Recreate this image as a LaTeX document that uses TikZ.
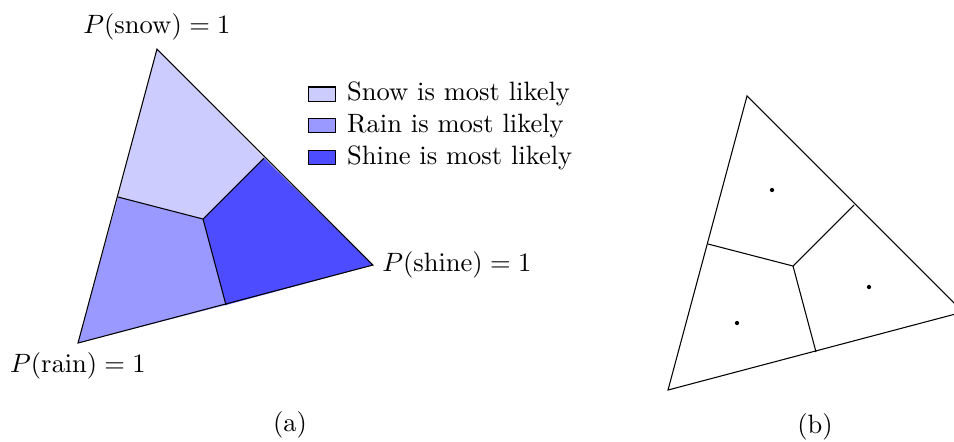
\documentclass[tikz,border=0pt]{standalone}
\usepackage{xcolor}
\usepackage{tikz}
\usetikzlibrary{positioning}
\definecolor{snowcol}{RGB}{204,204,255}
\definecolor{raincol}{RGB}{153,153,255}
\definecolor{shinecol}{RGB}{77,77,255}

\begin{document}
\begin{tikzpicture}[x=0.377pt, y=-0.377pt, node distance=0.5pt]
        \useasboundingbox (0,0) rectangle (954,441);
        % left simplex, coloured by most likely outcome
        \coordinate (snow) at (157,49);
        \coordinate (shine) at (373,265);
        \coordinate (rain) at (78,343);
        \coordinate (sr) at (118,197);
        \coordinate (ss) at (264,158);
        \coordinate (rs) at (226,305);
        \coordinate (mid) at (203,219);
        \fill[snowcol] (snow) -- (ss) -- (mid) -- (sr) -- cycle;
        \fill[raincol] (rain) -- (sr) -- (mid) -- (rs) -- cycle;
        \fill[shinecol] (shine) -- (rs) -- (mid) -- (ss) -- cycle;
        \draw (snow) -- (shine) -- (rain) -- cycle;
        \draw (sr) -- (mid) -- (ss) (mid) -- (rs);

        \node[above] (snowlab) at (snow) {$P(\mathrm{snow}) = 1$};
        \node[right] (shinelab) at (shine) {$P(\mathrm{shine}) = 1$};
        \node[below] (rainlab) at (rain) {$P(\mathrm{rain}) = 1$};

        % legend
        \node[rectangle, draw, fill=snowcol, minimum width=10.5pt, minimum height=5.3pt, inner sep=0pt] (snowbox) at (322,94) {};
        \node[rectangle, draw, fill=raincol, minimum width=10.5pt, minimum height=5.3pt, inner sep=0pt] (rainbox) at (322,125.5) {};
        \node[rectangle, draw, fill=shinecol, minimum width=10.5pt, minimum height=5.3pt, inner sep=0pt] (shinebox) at (322,157.5) {};
        \node[right=of snowbox] (snowtxt) {Snow is most likely};
        \node[right=of rainbox] (raintxt) {Rain is most likely};
        \node[right=of shinebox] (shinetxt) {Shine is most likely};

        % right simplex with the three points
        \begin{scope}[shift={(590,47)}]
          \coordinate (snowb) at (157,49);
          \coordinate (shineb) at (373,265);
          \coordinate (rainb) at (78,343);
          \coordinate (srb) at (118,197);
          \coordinate (ssb) at (264,158);
          \coordinate (rsb) at (226,305);
          \coordinate (midb) at (203,219);
          \draw (snowb) -- (shineb) -- (rainb) -- cycle;
          \draw (srb) -- (midb) -- (ssb) (midb) -- (rsb);
        \end{scope}
        \fill (772,190) circle (0.8pt);
        \fill (869,287) circle (0.8pt);
        \fill (737,323) circle (0.8pt);

        \node (capa) at (290,425) {(a)};
        \node (capb) at (815,427) {(b)};
      \end{tikzpicture}
\end{document}
